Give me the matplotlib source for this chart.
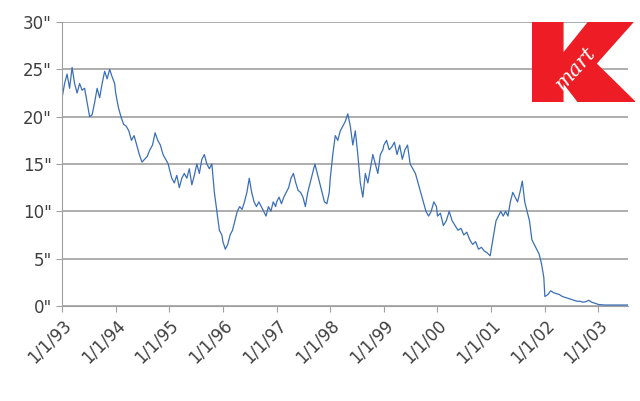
import matplotlib.pyplot as plt
import pandas as pd

# Kmart share price, spread evenly within each year
prices = {
    1993: [22, 23.5, 24.5, 23, 25.2, 23.5, 22.5, 23.5, 22.8, 23, 21.5, 20, 20.2, 21.5, 23, 22, 23.5, 24.8, 24, 25, 24.2, 23.5],
    1994: [22.5, 21, 20, 19.2, 19, 18.5, 17.5, 18, 17, 16, 15.2, 15.5, 15.8, 16.5, 17, 18.3, 17.5, 17, 16, 15.5, 15],
    1995: [14.5, 13.5, 13, 13.8, 12.5, 13.5, 14, 13.5, 14.5, 12.8, 13.8, 15, 14, 15.5, 16, 15, 14.5, 15, 12, 10, 8, 7.5],
    1996: [6.8, 6, 6.5, 7.5, 8, 9, 10, 10.5, 10.2, 11, 12, 13.5, 12, 11, 10.5, 11, 10.5, 10, 9.5, 10.5, 10, 11, 10.5],
    1997: [11, 11.5, 10.8, 11.5, 12, 12.5, 13.5, 14, 13, 12.2, 12, 11.5, 10.5, 12, 13, 14, 15, 14, 13, 12, 11, 10.8, 12],
    1998: [13.5, 16, 18, 17.5, 18.5, 19, 19.5, 20.3, 19, 17, 18.5, 16, 13, 11.5, 14, 13, 14.5, 16, 15, 14, 16, 16.5],
    1999: [17, 17.5, 16.5, 16.8, 17.3, 16, 17, 15.5, 16.5, 17, 15, 14.5, 14, 13, 12, 11, 10, 9.5, 10, 11, 10.5],
    2000: [9.5, 9.8, 8.5, 9, 10, 9, 8.5, 8, 8.2, 7.5, 7.8, 7, 6.5, 6.8, 6, 6.2, 5.8, 5.6, 5.3],
    2001: [6, 7.5, 9, 9.5, 10, 9.5, 10, 9.5, 11, 12, 11.5, 11, 12, 13.2, 11, 10, 9, 7, 6.5, 6, 5.5, 4.5, 3],
    2002: [1.0, 1.2, 1.6, 1.4, 1.3, 1.2, 1.0, 0.9, 0.8, 0.7, 0.6, 0.5, 0.5, 0.4, 0.45, 0.6, 0.4, 0.3, 0.2],
    2003: [0.15, 0.12, 0.1, 0.1, 0.1, 0.1, 0.1, 0.1, 0.1, 0.1],
}

dates, values = [], []
for year, vals in prices.items():
    end = pd.Timestamp(f"{year}-07-20") if year == 2003 else pd.Timestamp(f"{year}-12-25")
    dates.extend(pd.date_range(f"{year}-01-01", end, periods=len(vals)))
    values.extend(vals)

y_ticks = [0, 5, 10, 15, 20, 25, 30]
x_ticks = [pd.Timestamp(f"{y}-01-01") for y in range(1993, 2004)]
x_labels = [f"1/1/{str(y)[2:]}" for y in range(1993, 2004)]

fig = plt.figure(figsize=(6.4, 4.01), dpi=100)
ax = fig.add_axes([0.097, 0.237, 0.884, 0.708])
ax.plot(dates, values, color="#3a6fb8", linewidth=0.9)

ax.set_ylim(0, 30)
ax.set_xlim(pd.Timestamp("1993-01-01"), pd.Timestamp("2003-07-20"))
ax.set_yticks(y_ticks)
ax.set_yticklabels([f'{v}"' for v in y_ticks], color="#404040", fontsize=12)
ax.set_xticks(x_ticks)
ax.set_xticklabels(x_labels, rotation=45, ha="right", rotation_mode="anchor",
                   color="#404040", fontsize=12)
ax.yaxis.grid(True, color="#a0a0a0", linewidth=1.2)
ax.set_axisbelow(True)
for side in ["top", "right"]:
    ax.spines[side].set_visible(False)
ax.spines["left"].set_color("#a0a0a0")
ax.spines["bottom"].set_color("#a0a0a0")
ax.tick_params(axis="y", length=4, color="#a0a0a0")
ax.tick_params(axis="x", length=4, color="#a0a0a0", direction="out")

# Kmart logo (approximation): red K with white "mart"
lg = fig.add_axes([532 / 640, 1 - 102 / 401, 103 / 640, 80 / 401])
lg.set_xlim(0, 1)
lg.set_ylim(0, 1)
lg.axis("off")
k_x = [0, 0, 0.3, 0.3, 0.55, 0.98, 0.62, 1.0, 0.45, 0.3, 0.3]
k_y = [0, 1, 1, 0.6, 1, 1, 0.48, 0.0, 0.0, 0.25, 0]
lg.fill(k_x, k_y, color="#ee1c24", zorder=2)
lg.text(0.42, 0.42, "mart", color="white", fontsize=15, style="italic",
        fontfamily="DejaVu Serif", rotation=48, ha="center", va="center", zorder=3)

fig.savefig("out.png", dpi=100)
